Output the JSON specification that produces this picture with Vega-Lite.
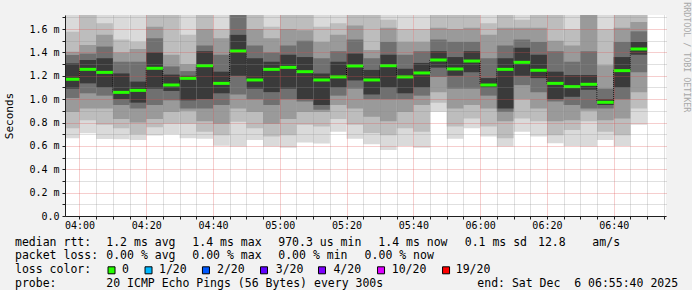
{
  "$schema": "https://vega.github.io/schema/vega-lite/v6.json",
  "padding": {"left": 3, "top": 2, "right": 0, "bottom": 0},
  "background": "#f2f2f2",
  "spacing": 4,
  "config": {
    "view": {"stroke": null},
    "font": "DejaVu Sans Mono",
    "axisY": {"labelOverlap": false},
    "axisX": {"labelOverlap": false}
  },
  "datasets": {
    "ping": [
      {"t": "2025-12-06T03:55:00", "t2": "2025-12-06T04:00:00", "med": 1.17, "lo1": 0.665, "lo2": 0.75, "lo3": 0.89, "lo4": 1.01, "lo5": 1.09, "hi5": 1.306, "hi4": 1.378, "hi3": 1.406, "hi2": 1.577, "hi1": 1.8, "loss": "0"},
      {"t": "2025-12-06T04:00:00", "t2": "2025-12-06T04:05:00", "med": 1.255, "lo1": 0.708, "lo2": 0.82, "lo3": 0.92, "lo4": 1.05, "lo5": 1.135, "hi5": 1.335, "hi4": 1.39, "hi3": 1.463, "hi2": 1.8, "hi1": 1.8, "loss": "0"},
      {"t": "2025-12-06T04:05:00", "t2": "2025-12-06T04:10:00", "med": 1.229, "lo1": 0.659, "lo2": 0.78, "lo3": 0.92, "lo4": 1.03, "lo5": 1.1, "hi5": 1.35, "hi4": 1.45, "hi3": 1.55, "hi2": 1.65, "hi1": 1.8, "loss": "0"},
      {"t": "2025-12-06T04:10:00", "t2": "2025-12-06T04:15:00", "med": 1.058, "lo1": 0.656, "lo2": 0.75, "lo3": 0.83, "lo4": 0.95, "lo5": 1.0, "hi5": 1.22, "hi4": 1.32, "hi3": 1.4, "hi2": 1.51, "hi1": 1.8, "loss": "0"},
      {"t": "2025-12-06T04:15:00", "t2": "2025-12-06T04:20:00", "med": 1.075, "lo1": 0.651, "lo2": 0.7, "lo3": 0.8, "lo4": 0.92, "lo5": 0.97, "hi5": 1.15, "hi4": 1.32, "hi3": 1.43, "hi2": 1.49, "hi1": 1.8, "loss": "0"},
      {"t": "2025-12-06T04:20:00", "t2": "2025-12-06T04:25:00", "med": 1.264, "lo1": 0.688, "lo2": 0.76, "lo3": 0.83, "lo4": 0.95, "lo5": 1.09, "hi5": 1.4, "hi4": 1.52, "hi3": 1.62, "hi2": 1.8, "hi1": 1.8, "loss": "0"},
      {"t": "2025-12-06T04:25:00", "t2": "2025-12-06T04:30:00", "med": 1.121, "lo1": 0.7, "lo2": 0.79, "lo3": 0.89, "lo4": 0.99, "lo5": 1.07, "hi5": 1.21, "hi4": 1.28, "hi3": 1.38, "hi2": 1.8, "hi1": 1.8, "loss": "0"},
      {"t": "2025-12-06T04:30:00", "t2": "2025-12-06T04:35:00", "med": 1.178, "lo1": 0.665, "lo2": 0.79, "lo3": 0.9, "lo4": 0.92, "lo5": 0.99, "hi5": 1.2, "hi4": 1.24, "hi3": 1.3, "hi2": 1.55, "hi1": 1.8, "loss": "0"},
      {"t": "2025-12-06T04:35:00", "t2": "2025-12-06T04:40:00", "med": 1.286, "lo1": 0.66, "lo2": 0.72, "lo3": 0.81, "lo4": 0.92, "lo5": 1.0, "hi5": 1.41, "hi4": 1.46, "hi3": 1.6, "hi2": 1.8, "hi1": 1.8, "loss": "0"},
      {"t": "2025-12-06T04:40:00", "t2": "2025-12-06T04:45:00", "med": 1.135, "lo1": 0.602, "lo2": 0.69, "lo3": 0.79, "lo4": 0.95, "lo5": 1.05, "hi5": 1.235, "hi4": 1.38, "hi3": 1.52, "hi2": 1.6, "hi1": 1.8, "loss": "0"},
      {"t": "2025-12-06T04:45:00", "t2": "2025-12-06T04:50:00", "med": 1.412, "lo1": 0.594, "lo2": 0.807, "lo3": 0.92, "lo4": 1.04, "lo5": 1.2, "hi5": 1.55, "hi4": 1.8, "hi3": 1.8, "hi2": 1.8, "hi1": 1.8, "loss": "0"},
      {"t": "2025-12-06T04:50:00", "t2": "2025-12-06T04:55:00", "med": 1.164, "lo1": 0.65, "lo2": 0.75, "lo3": 0.89, "lo4": 1.0, "lo5": 1.09, "hi5": 1.35, "hi4": 1.46, "hi3": 1.6, "hi2": 1.8, "hi1": 1.8, "loss": "0"},
      {"t": "2025-12-06T04:55:00", "t2": "2025-12-06T05:00:00", "med": 1.255, "lo1": 0.594, "lo2": 0.68, "lo3": 0.79, "lo4": 0.95, "lo5": 1.06, "hi5": 1.32, "hi4": 1.4, "hi3": 1.52, "hi2": 1.62, "hi1": 1.8, "loss": "0"},
      {"t": "2025-12-06T05:00:00", "t2": "2025-12-06T05:05:00", "med": 1.272, "lo1": 0.585, "lo2": 0.69, "lo3": 0.83, "lo4": 1.0, "lo5": 1.09, "hi5": 1.38, "hi4": 1.46, "hi3": 1.6, "hi2": 1.8, "hi1": 1.8, "loss": "0"},
      {"t": "2025-12-06T05:05:00", "t2": "2025-12-06T05:10:00", "med": 1.235, "lo1": 0.63, "lo2": 0.78, "lo3": 0.89, "lo4": 0.98, "lo5": 1.0, "hi5": 1.36, "hi4": 1.5, "hi3": 1.59, "hi2": 1.8, "hi1": 1.8, "loss": "0"},
      {"t": "2025-12-06T05:10:00", "t2": "2025-12-06T05:15:00", "med": 1.164, "lo1": 0.62, "lo2": 0.765, "lo3": 0.89, "lo4": 0.91, "lo5": 0.95, "hi5": 1.22, "hi4": 1.35, "hi3": 1.49, "hi2": 1.62, "hi1": 1.8, "loss": "0"},
      {"t": "2025-12-06T05:15:00", "t2": "2025-12-06T05:20:00", "med": 1.19, "lo1": 0.72, "lo2": 0.83, "lo3": 0.95, "lo4": 1.03, "lo5": 1.1, "hi5": 1.32, "hi4": 1.41, "hi3": 1.55, "hi2": 1.65, "hi1": 1.8, "loss": "0"},
      {"t": "2025-12-06T05:20:00", "t2": "2025-12-06T05:25:00", "med": 1.284, "lo1": 0.66, "lo2": 0.78, "lo3": 0.92, "lo4": 1.09, "lo5": 1.16, "hi5": 1.39, "hi4": 1.51, "hi3": 1.63, "hi2": 1.8, "hi1": 1.8, "loss": "0"},
      {"t": "2025-12-06T05:25:00", "t2": "2025-12-06T05:30:00", "med": 1.164, "lo1": 0.613, "lo2": 0.71, "lo3": 0.85, "lo4": 1.0, "lo5": 1.04, "hi5": 1.25, "hi4": 1.35, "hi3": 1.42, "hi2": 1.8, "hi1": 1.8, "loss": "0"},
      {"t": "2025-12-06T05:30:00", "t2": "2025-12-06T05:35:00", "med": 1.286, "lo1": 0.565, "lo2": 0.69, "lo3": 0.81, "lo4": 1.0, "lo5": 1.1, "hi5": 1.38, "hi4": 1.49, "hi3": 1.61, "hi2": 1.68, "hi1": 1.8, "loss": "0"},
      {"t": "2025-12-06T05:35:00", "t2": "2025-12-06T05:40:00", "med": 1.19, "lo1": 0.6, "lo2": 0.75, "lo3": 0.89, "lo4": 1.0, "lo5": 1.05, "hi5": 1.26, "hi4": 1.38, "hi3": 1.49, "hi2": 1.6, "hi1": 1.8, "loss": "0"},
      {"t": "2025-12-06T05:40:00", "t2": "2025-12-06T05:45:00", "med": 1.224, "lo1": 0.585, "lo2": 0.72, "lo3": 0.95, "lo4": 1.03, "lo5": 1.1, "hi5": 1.31, "hi4": 1.41, "hi3": 1.49, "hi2": 1.6, "hi1": 1.8, "loss": "0"},
      {"t": "2025-12-06T05:45:00", "t2": "2025-12-06T05:50:00", "med": 1.335, "lo1": 0.893, "lo2": 0.97, "lo3": 1.06, "lo4": 1.19, "lo5": 1.27, "hi5": 1.41, "hi4": 1.51, "hi3": 1.61, "hi2": 1.8, "hi1": 1.8, "loss": "0"},
      {"t": "2025-12-06T05:50:00", "t2": "2025-12-06T05:55:00", "med": 1.258, "lo1": 0.66, "lo2": 0.765, "lo3": 0.92, "lo4": 1.09, "lo5": 1.2, "hi5": 1.36, "hi4": 1.49, "hi3": 1.6, "hi2": 1.8, "hi1": 1.8, "loss": "0"},
      {"t": "2025-12-06T05:55:00", "t2": "2025-12-06T06:00:00", "med": 1.326, "lo1": 0.75, "lo2": 0.835, "lo3": 0.95, "lo4": 1.09, "lo5": 1.23, "hi5": 1.41, "hi4": 1.49, "hi3": 1.61, "hi2": 1.8, "hi1": 1.8, "loss": "0"},
      {"t": "2025-12-06T06:00:00", "t2": "2025-12-06T06:05:00", "med": 1.121, "lo1": 0.68, "lo2": 0.765, "lo3": 0.92, "lo4": 1.03, "lo5": 1.1, "hi5": 1.18, "hi4": 1.35, "hi3": 1.55, "hi2": 1.65, "hi1": 1.8, "loss": "0"},
      {"t": "2025-12-06T06:05:00", "t2": "2025-12-06T06:10:00", "med": 1.255, "lo1": 0.594, "lo2": 0.665, "lo3": 0.81, "lo4": 0.89, "lo5": 0.92, "hi5": 1.35, "hi4": 1.46, "hi3": 1.61, "hi2": 1.8, "hi1": 1.8, "loss": "0"},
      {"t": "2025-12-06T06:10:00", "t2": "2025-12-06T06:15:00", "med": 1.315, "lo1": 0.72, "lo2": 0.835, "lo3": 1.0, "lo4": 1.12, "lo5": 1.2, "hi5": 1.44, "hi4": 1.51, "hi3": 1.61, "hi2": 1.68, "hi1": 1.8, "loss": "0"},
      {"t": "2025-12-06T06:15:00", "t2": "2025-12-06T06:20:00", "med": 1.247, "lo1": 0.68, "lo2": 0.81, "lo3": 0.92, "lo4": 1.06, "lo5": 1.18, "hi5": 1.38, "hi4": 1.49, "hi3": 1.61, "hi2": 1.8, "hi1": 1.8, "loss": "0"},
      {"t": "2025-12-06T06:20:00", "t2": "2025-12-06T06:25:00", "med": 1.135, "lo1": 0.622, "lo2": 0.69, "lo3": 0.81, "lo4": 0.98, "lo5": 1.0, "hi5": 1.235, "hi4": 1.41, "hi3": 1.5, "hi2": 1.8, "hi1": 1.8, "loss": "0"},
      {"t": "2025-12-06T06:25:00", "t2": "2025-12-06T06:30:00", "med": 1.107, "lo1": 0.6, "lo2": 0.736, "lo3": 0.82, "lo4": 0.95, "lo5": 1.02, "hi5": 1.206, "hi4": 1.32, "hi3": 1.46, "hi2": 1.6, "hi1": 1.8, "loss": "0"},
      {"t": "2025-12-06T06:30:00", "t2": "2025-12-06T06:35:00", "med": 1.127, "lo1": 0.594, "lo2": 0.81, "lo3": 0.9, "lo4": 0.92, "lo5": 1.08, "hi5": 1.206, "hi4": 1.41, "hi3": 1.8, "hi2": 1.8, "hi1": 1.8, "loss": "0"},
      {"t": "2025-12-06T06:35:00", "t2": "2025-12-06T06:40:00", "med": 0.973, "lo1": 0.65, "lo2": 0.72, "lo3": 0.82, "lo4": 0.92, "lo5": 0.95, "hi5": 1.0, "hi4": 1.09, "hi3": 1.29, "hi2": 1.6, "hi1": 1.8, "loss": "0"},
      {"t": "2025-12-06T06:40:00", "t2": "2025-12-06T06:45:00", "med": 1.244, "lo1": 0.6, "lo2": 0.69, "lo3": 0.835, "lo4": 1.0, "lo5": 1.1, "hi5": 1.36, "hi4": 1.49, "hi3": 1.61, "hi2": 1.8, "hi1": 1.8, "loss": "0"},
      {"t": "2025-12-06T06:45:00", "t2": "2025-12-06T06:50:00", "med": 1.429, "lo1": 0.78, "lo2": 0.92, "lo3": 1.06, "lo4": 1.23, "lo5": 1.38, "hi5": 1.49, "hi4": 1.58, "hi3": 1.66, "hi2": 1.8, "hi1": 1.8, "loss": "0"}
    ],
    "legendtext": [
      {"col": 0, "line": 1, "label": "median rtt:"},
      {"col": 13.0, "line": 1, "label": "1.2 ms avg"},
      {"col": 25.26, "line": 1, "label": "1.4 ms max"},
      {"col": 37.5, "line": 1, "label": "970.3 us min"},
      {"col": 51.75, "line": 1, "label": "1.4 ms now"},
      {"col": 64.06, "line": 1, "label": "0.1 ms sd"},
      {"col": 74.5, "line": 1, "label": "12.8"},
      {"col": 82.24, "line": 1, "label": "am/s"},
      {"col": 0, "line": 2, "label": "packet loss:"},
      {"col": 13.0, "line": 2, "label": "0.00 % avg"},
      {"col": 25.26, "line": 2, "label": "0.00 % max"},
      {"col": 37.5, "line": 2, "label": "0.00 % min"},
      {"col": 49.8, "line": 2, "label": "0.00 % now"},
      {"col": 0, "line": 3, "label": "loss color:"},
      {"col": 15.24, "line": 3, "label": "0"},
      {"col": 20.51, "line": 3, "label": "1/20"},
      {"col": 28.77, "line": 3, "label": "2/20"},
      {"col": 37.14, "line": 3, "label": "3/20"},
      {"col": 45.36, "line": 3, "label": "4/20"},
      {"col": 53.66, "line": 3, "label": "10/20"},
      {"col": 62.78, "line": 3, "label": "19/20"},
      {"col": 0, "line": 4, "label": "probe:"},
      {"col": 13.0, "line": 4, "label": "20 ICMP Echo Pings (56 Bytes) every 300s"},
      {"col": 65.85, "line": 4, "label": "end: Sat Dec\u00a0\u00a06 06:55:40 2025"}
    ],
    "squares": [
      {"col": 13.75, "line": 3, "loss": "0"},
      {"col": 19.02, "line": 3, "loss": "1/20"},
      {"col": 27.2, "line": 3, "loss": "2/20"},
      {"col": 35.47, "line": 3, "loss": "3/20"},
      {"col": 43.73, "line": 3, "loss": "4/20"},
      {"col": 52.14, "line": 3, "loss": "10/20"},
      {"col": 61.4, "line": 3, "loss": "19/20"}
    ]
  },
  "vconcat": [
    {
      "width": 601,
      "height": 201,
      "view": {"fill": "#ffffff", "stroke": null},
      "title": {
        "text": "RRDTOOL / TOBI OETIKER",
        "orient": "right",
        "anchor": "start",
        "font": "DejaVu Sans Mono",
        "fontSize": 8.3,
        "fontWeight": "normal",
        "color": "#a8a8a8",
        "offset": 17,
        "dx": -10
      },
      "data": {"name": "ping"},
      "encoding": {
        "x": {
          "field": "t",
          "type": "temporal",
          "scale": {
            "domain": [
              {"year": 2025, "month": 12, "date": 6, "hours": 3, "minutes": 55, "seconds": 40},
              {"year": 2025, "month": 12, "date": 6, "hours": 6, "minutes": 55, "seconds": 40}
            ],
            "nice": false
          },
          "axis": {
            "title": null,
            "tickCount": 36,
            "labelExpr": "minutes(datum.value) % 20 == 0 ? timeFormat(datum.value, '%H:%M') : ''",
            "labelOverlap": false,
            "labelFont": "DejaVu Sans Mono",
            "labelFontSize": 10,
            "labelColor": "#000000",
            "labelPadding": 1,
            "grid": true,
            "gridDash": [1, 1],
            "gridColor": {"condition": {"test": "minutes(datum.value) % 20 == 0", "value": "#de4f4f"}, "value": "#8f8f8f"},
            "gridOpacity": 0.55,
            "domainColor": "#1f1f1f",
            "tickColor": "#1f1f1f",
            "tickSize": 3,
            "zindex": 1
          }
        }
      },
      "layer": [
        {
          "mark": {"type": "rect", "color": "#dadada", "clip": true},
          "encoding": {
            "x2": {"field": "t2"},
            "y": {
              "field": "lo1",
              "type": "quantitative",
              "title": "Seconds",
              "scale": {"domain": [0, 1.72], "nice": false},
              "axis": {
                "tickCount": 17,
                "labelExpr": "round(datum.value * 10) % 2 == 0 ? (datum.value == 0 ? '0.0' : format(datum.value, '.1f') + ' m') : ''",
                "labelOverlap": false,
                "labelFont": "DejaVu Sans Mono",
                "labelFontSize": 10,
                "labelColor": "#000000",
                "labelPadding": 3,
                "grid": true,
                "gridDash": [1, 1],
                "gridColor": {"condition": {"test": "round(datum.value * 10) % 2 == 0", "value": "#de4f4f"}, "value": "#8f8f8f"},
                "gridOpacity": 0.55,
                "domainColor": "#1f1f1f",
                "tickColor": "#1f1f1f",
                "tickSize": 3,
                "titleFont": "DejaVu Sans Mono",
                "titleFontSize": 11,
                "titleFontWeight": "normal",
                "titleColor": "#000000",
                "titlePadding": 14,
                "zindex": 1
              }
            },
            "y2": {"field": "hi1"}
          }
        },
        {
          "mark": {"type": "rect", "color": "#bdbdbd", "clip": true},
          "encoding": {
            "x2": {"field": "t2"},
            "y": {"field": "lo2", "type": "quantitative", "title": "Seconds"},
            "y2": {"field": "hi2"}
          }
        },
        {
          "mark": {"type": "rect", "color": "#9a9a9a", "clip": true},
          "encoding": {
            "x2": {"field": "t2"},
            "y": {"field": "lo3", "type": "quantitative", "title": "Seconds"},
            "y2": {"field": "hi3"}
          }
        },
        {
          "mark": {"type": "rect", "color": "#707070", "clip": true},
          "encoding": {
            "x2": {"field": "t2"},
            "y": {"field": "lo4", "type": "quantitative", "title": "Seconds"},
            "y2": {"field": "hi4"}
          }
        },
        {
          "mark": {"type": "rect", "color": "#3a3a3a", "clip": true},
          "encoding": {
            "x2": {"field": "t2"},
            "y": {"field": "lo5", "type": "quantitative", "title": "Seconds"},
            "y2": {"field": "hi5"}
          }
        },
        {
          "mark": {"type": "line", "interpolate": "step-after", "color": "#000000", "strokeWidth": 1, "strokeDash": [1, 1], "clip": true},
          "encoding": {
            "y": {"field": "med", "type": "quantitative", "title": "Seconds"}
          }
        },
        {
          "mark": {"type": "rule", "strokeWidth": 3, "clip": true},
          "encoding": {
            "x2": {"field": "t2"},
            "y": {"field": "med", "type": "quantitative", "title": "Seconds"},
            "color": {
              "field": "loss",
              "type": "nominal",
              "scale": {
                "domain": ["0", "1/20", "2/20", "3/20", "4/20", "10/20", "19/20"],
                "range": ["#26ff00", "#00b8ff", "#0059ff", "#5e00ff", "#7e00ff", "#dd00ff", "#ff0000"]
              },
              "legend": null
            }
          }
        }
      ]
    },
    {
      "width": 601,
      "height": 56,
      "encoding": {
        "x": {"field": "col", "type": "quantitative", "scale": {"domain": [7.123, 92.73], "nice": false, "zero": false}, "axis": null},
        "y": {"field": "line", "type": "quantitative", "scale": {"domain": [0.3696, 4.4276], "nice": false, "zero": false, "reverse": true}, "axis": null}
      },
      "layer": [
        {
          "data": {"name": "legendtext"},
          "mark": {"type": "text", "align": "left", "baseline": "middle", "font": "DejaVu Sans Mono", "fontSize": 11.5, "color": "#000000"},
          "encoding": {"text": {"field": "label"}}
        },
        {
          "data": {"name": "squares"},
          "mark": {"type": "square", "size": 49, "filled": true, "opacity": 1, "stroke": "#000000", "strokeWidth": 1},
          "encoding": {
            "color": {
              "field": "loss",
              "type": "nominal",
              "scale": {
                "domain": ["0", "1/20", "2/20", "3/20", "4/20", "10/20", "19/20"],
                "range": ["#26ff00", "#00b8ff", "#0059ff", "#5e00ff", "#7e00ff", "#dd00ff", "#ff0000"]
              },
              "legend": null
            }
          }
        }
      ]
    }
  ]
}
